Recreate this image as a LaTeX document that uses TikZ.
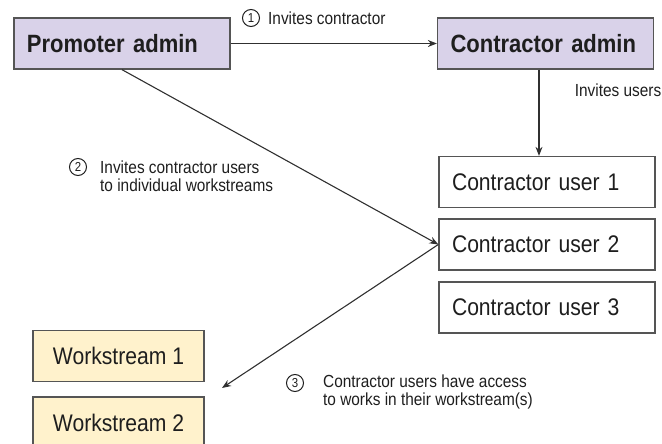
\documentclass[tikz,border=0pt]{standalone}
\usepackage{fontspec}
\setmainfont{Liberation Sans}[FakeStretch=0.88]
\usetikzlibrary{arrows.meta}
\definecolor{lav}{HTML}{D9D2E9}
\definecolor{ylw}{HTML}{FFF2CC}
\definecolor{bord}{HTML}{555555}
\definecolor{ink}{HTML}{1E1E1E}
\definecolor{arr}{HTML}{303030}
\begin{document}
\begin{tikzpicture}[x=1pt,y=-1pt,
  adminbox/.style={draw=bord, line width=1.3pt, fill=lav, minimum width=216pt, minimum height=51pt,
    inner xsep=13pt, text width=190pt, align=left, text=ink, font=\fontsize{25}{30}\selectfont\bfseries},
  userbox/.style={draw=bord, line width=1.3pt, fill=white, minimum width=216pt, minimum height=51pt,
    inner xsep=13pt, text width=190pt, align=left, text=ink, font=\fontsize{24}{28}\selectfont},
  wsbox/.style={draw=bord, line width=1.3pt, fill=ylw, minimum width=171pt, minimum height=51pt,
    align=center, text=ink, font=\fontsize{24}{28}\selectfont},
  lbl/.style={text=ink, align=left, inner sep=0pt, anchor=west, font=\fontsize{17.5}{18}\selectfont},
  num/.style={draw=ink, line width=1pt, circle, minimum size=17pt, inner sep=0pt, text=ink,
    font=\fontsize{13}{13}\selectfont},
  conn/.style={draw=arr, line width=1.1pt, -{Stealth[length=9pt,width=7pt]}}
]
\useasboundingbox (0,0) rectangle (662,444);

% boxes
\node[adminbox] (prom) at (122,43.5) {Promoter admin};
\node[adminbox] (cadm) at (545.5,43.5) {Contractor admin};
\node[userbox] (u1) at (547,182) {Contractor user 1};
\node[userbox] (u2) at (547,244.5) {Contractor user 2};
\node[userbox] (u3) at (547,307.5) {Contractor user 3};
\node[wsbox] (ws1) at (118.5,356) {Workstream 1};
\node[wsbox] (ws2) at (118.5,422.5) {Workstream 2};

\coordinate (wsin) at (222,388);

% connectors
\draw[conn] (prom.east) -- (cadm.west);
\draw[conn] ([xshift=-6.5pt]cadm.south) -- ([xshift=-8pt]u1.north);
\draw[conn] (prom.south) -- (u2.west);
\draw[conn] (u2.west) -- (wsin);

% labels
\node[num] (n1) at (251,18) {1};
\node[lbl] (l1) at (268,18) {Invites contractor};
\node[lbl, anchor=east] (l4) at (661.5,90) {Invites users};
\node[num] (n2) at (78,167) {2};
\node[lbl] (l2) at (100,176) {Invites contractor users\\to individual workstreams};
\node[num] (n3) at (295,383) {3};
\node[lbl] (l3) at (323,391.5) {Contractor users have access\\to works in their workstream(s)};
\end{tikzpicture}
\end{document}
